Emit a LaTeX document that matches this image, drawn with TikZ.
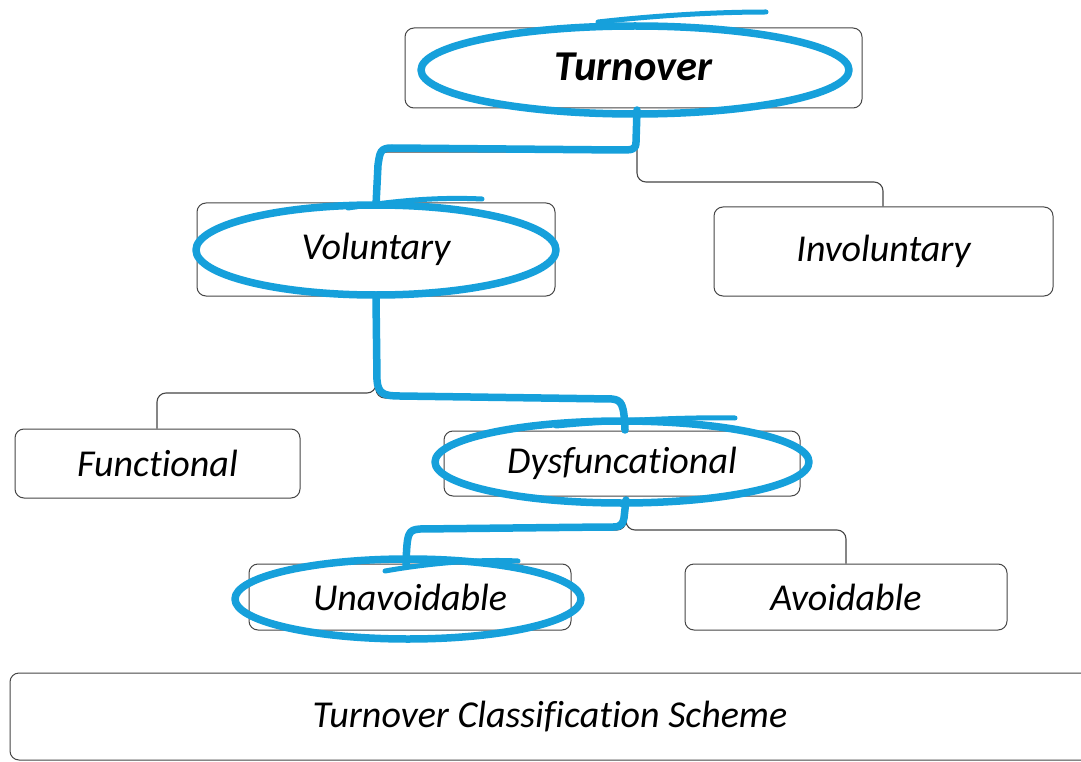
\documentclass[tikz,border=0pt]{standalone}
\usepackage{fontspec}
\setmainfont[Ligatures={NoCommon,NoRare}]{Carlito}
\definecolor{hl}{RGB}{22,160,219}
\definecolor{boxline}{RGB}{70,70,70}
\tikzset{
  box/.style={draw=boxline, line width=1pt, rounded corners=9pt, fill=white, inner sep=0pt, font=\itshape\fontsize{38}{44}\selectfont},
  tie/.style={draw=boxline, line width=1.1pt, rounded corners=9pt},
  hlmark/.style={draw=hl, line width=7.5pt, line cap=round, line join=round},
  hlthin/.style={draw=hl, line width=5pt, line cap=round, line join=round}
}
\begin{document}
\begin{tikzpicture}[x=1pt,y=-1pt]
\clip (0,0) rectangle (1081,762);
\fill[white] (0,0) rectangle (1081,762);

% boxes
\node[box, minimum width=457pt, minimum height=80pt, font=\bfseries\itshape\fontsize{42.5}{48}\selectfont] (turn) at (633.5,68) {\raisebox{3pt}{Turnover}};
\node[box, minimum width=358pt, minimum height=93pt] (vol) at (376,249.5) {Voluntary};
\node[box, minimum width=339pt, minimum height=89pt] (invol) at (883.5,251.5) {Involuntary};
\node[box, minimum width=285pt, minimum height=69pt] (func) at (157.5,463.5) {Functional};
\node[box, minimum width=356pt, minimum height=65pt] (dys) at (622,463.5) {Dysfuncational};
\node[box, minimum width=322pt, minimum height=66pt] (unav) at (410,597) {Unavoidable};
\node[box, minimum width=322pt, minimum height=66pt] (avoid) at (846,597) {Avoidable};
\node[box, minimum width=1080pt, minimum height=87pt] (scheme) at (550,716.5) {Turnover Classification Scheme};

% grey connectors
\coordinate (t0) at (turn.south -| 637,0);
\draw[tie] (t0) -- (637,182) -- (883,182) -- (invol.north -| 883,0);
\draw[tie] (t0) -- (637,152) -- (378,152) -- (vol.north -| 378,0);
\coordinate (v0) at (vol.south -| 376,0);
\draw[tie] (v0) -- (376,393) -- (157,393) -- (func.north -| 157,0);
\draw[tie] (v0) -- (376,398) -- (625,398) -- (dys.north -| 625,0);
\coordinate (d0) at (dys.south -| 626,0);
\draw[tie] (d0) -- (626,530) -- (846,530) -- (avoid.north -| 846,0);
\draw[tie] (d0) -- (626,530) -- (407,530) -- (unav.north -| 407,0);

% blue highlight: ellipses
\draw[hlmark] (635,70) ellipse [x radius=214pt, y radius=44pt];
\draw[hlthin] (598,22) .. controls (660,15) and (720,12) .. (766,12);
\draw[hlmark] (376,250) ellipse [x radius=180pt, y radius=45pt];
\draw[hlthin] (348,208) .. controls (400,200) and (440,197) .. (482,199);
\draw[hlmark] (622,462) ellipse [x radius=187pt, y radius=41pt];
\draw[hlthin] (556,426) .. controls (620,420) and (690,417) .. (735,418);
\draw[hlmark] (408,599) ellipse [x radius=173pt, y radius=40pt];
\draw[hlthin] (385,571) .. controls (430,563) and (480,559) .. (518,561);

% blue highlight: connectors
\draw[hlmark] (637,110) -- (636,142) .. controls (636,150) and (632,150) .. (620,150) -- (392,148) .. controls (380,148) and (380,152) .. (378,165) -- (376,205);
\draw[hlmark] (376,298) -- (377,380) .. controls (378,394) and (384,396) .. (400,396) -- (612,399) .. controls (622,400) and (624,405) .. (625,430);
\draw[hlmark] (626,500) -- (624,518) .. controls (622,528) and (618,527) .. (605,527) -- (420,529) .. controls (408,530) and (407,532) .. (406,565);
\end{tikzpicture}
\end{document}
